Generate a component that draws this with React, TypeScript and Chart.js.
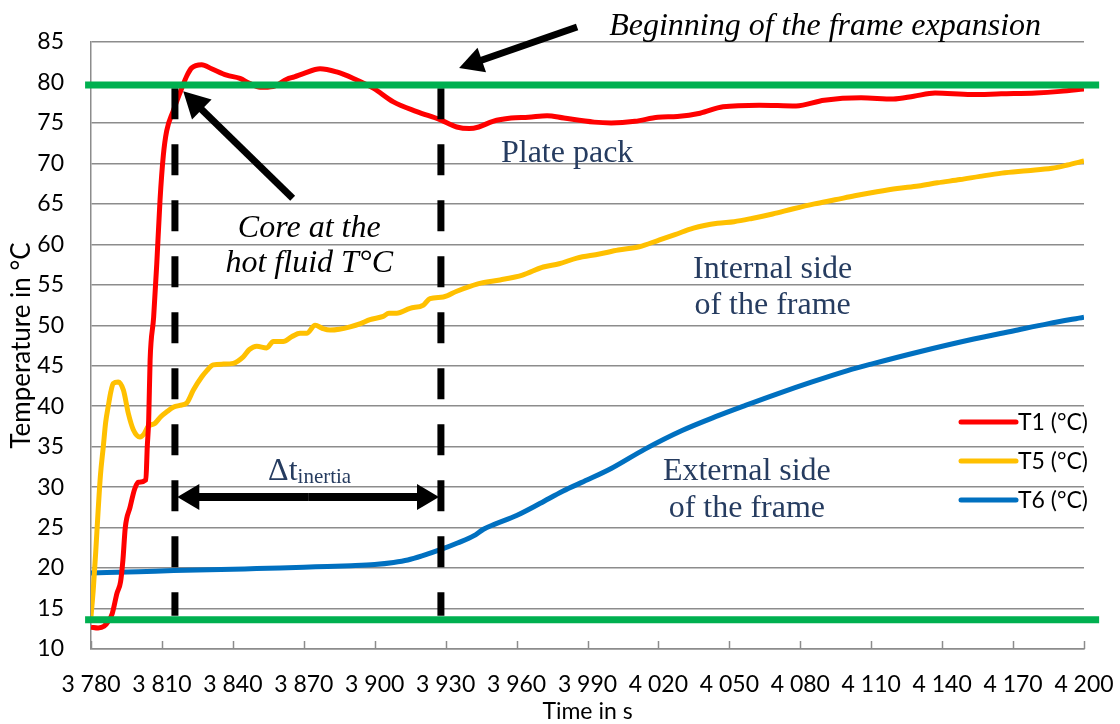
import React, { useEffect, useRef } from 'react';
import Chart from 'chart.js/auto';

// ---- data (time in s, temperature in °C) ----
const t1Times = [3780, 3783, 3785.5, 3787.5, 3789, 3791, 3792.5, 3793.5, 3794.5, 3796.5, 3798.5, 3800, 3803.2, 3803.8, 3804.4, 3805, 3806.5, 3807.8, 3809.2, 3810.6, 3812, 3814.8, 3818.4, 3820.5, 3822.6, 3826.8, 3831, 3837.4, 3843, 3847, 3851.5, 3857, 3862.8, 3866, 3869.8, 3876.9, 3883.9, 3891, 3899.4, 3907.9, 3917.8, 3927.6, 3934.7, 3940, 3944, 3950, 3957.7, 3965, 3972.9, 3980, 3992.8, 4000, 4010.1, 4019.8, 4028, 4037.6, 4047.3, 4062.6, 4078.2, 4090.1, 4105.7, 4119.3, 4128, 4137, 4152.3, 4165, 4179.7, 4190, 4200];
const t1Values = [12.7, 12.6, 12.8, 13.5, 14.4, 16.9, 18.3, 21, 25, 27.5, 29.8, 30.6, 30.9, 35, 38.3, 45.7, 51, 57.5, 65.5, 71, 74, 76.5, 79.3, 80.8, 81.8, 82.2, 81.7, 80.9, 80.5, 79.9, 79.4, 79.5, 80.4, 80.7, 81.1, 81.7, 81.3, 80.5, 79.3, 77.6, 76.4, 75.4, 74.5, 74.3, 74.5, 75.2, 75.6, 75.7, 75.9, 75.6, 75.1, 75.0, 75.2, 75.7, 75.8, 76.2, 77.0, 77.2, 77.1, 77.8, 78.1, 77.96, 78.3, 78.7, 78.5, 78.6, 78.7, 78.9, 79.2];

const t5Times = [3780, 3781, 3782, 3783, 3784, 3785.2, 3786.2, 3787.3, 3788.4, 3789.4, 3791.5, 3793.7, 3795.8, 3797.9, 3800.7, 3802.5, 3804.2, 3807.1, 3809.5, 3812, 3815, 3817.6, 3820.5, 3823.3, 3826.8, 3829, 3831.7, 3836, 3840.2, 3844.4, 3847, 3850.1, 3854.3, 3857.1, 3861.3, 3865, 3868.4, 3871.2, 3874.8, 3878, 3881.1, 3885, 3889.6, 3894, 3898, 3903.6, 3906, 3909.3, 3914.9, 3920.6, 3923.4, 3929, 3934.7, 3940.3, 3944.9, 3953, 3962.5, 3971.3, 3978, 3985.5, 3995, 4003, 4011.9, 4020, 4027, 4034.8, 4045, 4052, 4059.5, 4068.3, 4077.1, 4086, 4094.7, 4103, 4112.4, 4121, 4130, 4138, 4147.6, 4156, 4165.2, 4176, 4186.4, 4193, 4200];
const t5Values = [14, 17.5, 22, 27, 31.5, 35, 38, 40, 41.8, 42.8, 43, 42, 39.1, 37.1, 36.2, 36.6, 37.5, 37.9, 38.7, 39.3, 39.9, 40.1, 40.4, 42, 43.6, 44.4, 45.1, 45.2, 45.3, 46.1, 47, 47.4, 47.2, 48, 48, 48.6, 49, 49, 50, 49.6, 49.4, 49.5, 49.8, 50.2, 50.7, 51.1, 51.5, 51.5, 52.1, 52.5, 53.3, 53.5, 54.2, 54.8, 55.2, 55.6, 56.2, 57.2, 57.6, 58.3, 58.8, 59.3, 59.7, 60.5, 61.2, 62, 62.6, 62.8, 63.2, 63.75, 64.4, 65, 65.5, 66, 66.5, 66.9, 67.2, 67.6, 68.0, 68.4, 68.8, 69.1, 69.4, 69.8, 70.3];

const t6Times = [3780, 3800, 3815, 3830, 3845, 3860, 3875, 3890, 3900, 3908, 3914, 3920, 3928, 3935, 3942, 3946, 3950.6, 3960, 3970, 3979.5, 3990, 4000, 4014.3, 4030, 4045, 4056.8, 4070, 4085, 4100, 4110, 4130, 4153.4, 4170, 4185, 4200];
const t6Values = [19.4, 19.55, 19.7, 19.8, 19.9, 20.0, 20.15, 20.3, 20.45, 20.7, 21.0, 21.5, 22.3, 23.1, 24.0, 24.8, 25.4, 26.5, 28.0, 29.5, 30.9, 32.3, 34.7, 37.0, 38.8, 40.1, 41.5, 43.0, 44.4, 45.2, 46.7, 48.3, 49.3, 50.2, 51.0];

const seriesLabels = ['T1 (°C)', 'T5 (°C)', 'T6 (°C)'];
const seriesColors = ['#FF0000', '#FFC000', '#0070C0'];

// reference levels / markers
const greenLevels = [79.7, 13.6];
const greenSpan = [3777.5, 4206.4];
const markerTimes = [3815.5, 3928];
const markerSpan = [79.3, 14.1];

// axis settings
const xMin = 3780, xMax = 4200, xStep = 30;
const yMin = 10, yMax = 85, yStep = 5;

const TEXT_BLUE = '#263C60';
const GRID = '#8C8C8C';

function pts(xs: number[], ys: number[]) {
  return xs.map((x, i) => ({ x, y: ys[i] }));
}

function fmtTime(v: number) {
  const th = Math.floor(v / 1000);
  const r = String(Math.round(v % 1000)).padStart(3, '0');
  return th + '\u00A0' + r;
}

function drawArrow(ctx: CanvasRenderingContext2D, x1: number, y1: number, x2: number, y2: number, w: number, hl: number, hw: number) {
  const dx = x2 - x1, dy = y2 - y1;
  const len = Math.hypot(dx, dy);
  const ux = dx / len, uy = dy / len;
  const bx = x2 - ux * hl, by = y2 - uy * hl;
  ctx.beginPath();
  ctx.lineWidth = w;
  ctx.lineCap = 'butt';
  ctx.moveTo(x1, y1);
  ctx.lineTo(bx + ux * 2, by + uy * 2);
  ctx.stroke();
  ctx.beginPath();
  ctx.moveTo(x2, y2);
  ctx.lineTo(bx - uy * hw, by + ux * hw);
  ctx.lineTo(bx + uy * hw, by - ux * hw);
  ctx.closePath();
  ctx.fill();
}

const annotPlugin = {
  id: 'annots',
  afterDatasetsDraw(chart: any) {
    const { ctx, chartArea } = chart;
    const xs = chart.scales.x, ys = chart.scales.y;
    const px = (t: number) => xs.getPixelForValue(t);
    const py = (v: number) => ys.getPixelForValue(v);
    ctx.save();
    // inside tick marks on x axis
    ctx.strokeStyle = GRID;
    ctx.lineWidth = 1.5;
    xs.ticks.forEach((tk: any) => {
      const X = Math.round(px(tk.value)) + 0.5;
      ctx.beginPath();
      ctx.moveTo(X, chartArea.bottom);
      ctx.lineTo(X, chartArea.bottom - 8);
      ctx.stroke();
    });

    // arrows
    ctx.strokeStyle = '#000';
    ctx.fillStyle = '#000';
    drawArrow(ctx, px(3865.3), py(65.7), px(3819), py(78.9), 7, 26, 14);
    drawArrow(ctx, px(3985.6), py(86.86), px(3935.7), py(81.8), 7, 24, 13);
    const ay = py(28.78);
    const ax1 = px(3816.5), ax2 = px(3927.2);
    const mx = (ax1 + ax2) / 2;
    drawArrow(ctx, mx, ay, ax1, ay, 8, 22, 13);
    drawArrow(ctx, mx, ay, ax2, ay, 8, 22, 13);

    // texts
    ctx.textBaseline = 'alphabetic';
    ctx.textAlign = 'center';
    ctx.fillStyle = '#000';
    ctx.font = 'italic 32px "Liberation Serif"';
    ctx.fillText('Beginning of the frame expansion', px(4090.5), py(85.87));
    ctx.fillText('Core at the', px(3872.3), py(60.9));
    ctx.fillText('hot fluid T°C', px(3872.3), py(56.6));

    ctx.fillStyle = TEXT_BLUE;
    ctx.font = '32px "Liberation Serif"';
    ctx.fillText('Plate pack', px(3981.4), py(70.2));
    ctx.fillText('Internal side', px(4068.3), py(55.9));
    ctx.fillText('of the frame', px(4068.3), py(51.4));
    ctx.fillText('External side', px(4057.4), py(30.9));
    ctx.fillText('of the frame', px(4057.4), py(26.35));

    ctx.textAlign = 'left';
    const dx0 = px(3854.9), dbase = py(30.9);
    ctx.font = '32px "Liberation Serif"';
    ctx.fillText('\u0394t', dx0, dbase);
    const w = ctx.measureText('\u0394t').width;
    ctx.font = '21px "Liberation Serif"';
    ctx.fillText('inertia', dx0 + w, dbase + 3);

    ctx.restore();
  },
  afterDraw(chart: any) {
    const { ctx, chartArea } = chart;
    ctx.save();
    const lx1 = chartArea.right - 123, lx2 = chartArea.right - 68;
    const rows = [chartArea.top + 380, chartArea.top + 419, chartArea.top + 458];
    ctx.font = '23px Lato';
    ctx.textBaseline = 'middle';
    ctx.textAlign = 'left';
    seriesLabels.forEach((lab, i) => {
      ctx.strokeStyle = seriesColors[i];
      ctx.lineWidth = 5;
      ctx.lineCap = 'round';
      ctx.beginPath();
      ctx.moveTo(lx1, rows[i]);
      ctx.lineTo(lx2, rows[i]);
      ctx.stroke();
      ctx.fillStyle = '#000';
      ctx.fillText(lab, lx2 + 2, rows[i] + 1);
    });
    ctx.restore();
  },
};

export default function App() {
  const ref = useRef<HTMLCanvasElement | null>(null);
  useEffect(() => {
    document.body.style.margin = '0';
    const canvas = ref.current;
    if (!canvas) return;
    const curve = (i: number, xs: number[], ys: number[]) => ({
      label: seriesLabels[i],
      data: pts(xs, ys),
      borderColor: seriesColors[i],
      backgroundColor: seriesColors[i],
      borderWidth: 5,
      pointRadius: 0,
      cubicInterpolationMode: 'monotone' as const,
      fill: false,
      order: 2 + i,
    });
    const green = (lvl: number) => ({
      label: 'level',
      data: greenSpan.map((t) => ({ x: t, y: lvl })),
      borderColor: '#00B050',
      borderWidth: 7,
      pointRadius: 0,
      fill: false,
      clip: false as any,
      order: 0,
    });
    const marker = (t: number) => ({
      label: 'marker',
      data: markerSpan.map((v) => ({ x: t, y: v })),
      borderColor: '#000000',
      borderWidth: 7,
      borderDash: [31, 25],
      borderCapStyle: 'butt' as const,
      pointRadius: 0,
      fill: false,
      order: 1,
    });
    const chart = new Chart(canvas, {
      type: 'line',
      data: {
        datasets: [
          curve(0, t1Times, t1Values),
          curve(1, t5Times, t5Values),
          curve(2, t6Times, t6Values),
          ...greenLevels.map(green),
          ...markerTimes.map(marker),
        ] as any,
      },
      options: {
        animation: false,
        responsive: true,
        maintainAspectRatio: false,
        layout: { padding: { top: 42, right: 36, left: 0, bottom: 0 } },
        plugins: { legend: { display: false }, tooltip: { enabled: false } },
        scales: {
          x: {
            type: 'linear',
            min: xMin,
            max: xMax,
            afterFit: (s: any) => { s.height = 75; s.paddingLeft = 0; s.paddingRight = 0; },
            ticks: {
              stepSize: xStep,
              padding: 22,
              color: '#000',
              font: { family: 'Lato', size: 23 },
              maxRotation: 0,
              autoSkip: false,
              callback: (v: any) => fmtTime(Number(v)),
            },
            grid: { display: false, drawTicks: false },
            border: { display: true, color: GRID, width: 1.5 },
            title: { display: true, text: 'Time in s', color: '#000', font: { family: 'Lato', size: 23 }, padding: { top: 0, bottom: -1 } },
          },
          y: {
            type: 'linear',
            min: yMin,
            max: yMax,
            afterFit: (s: any) => { s.width = 91; s.paddingTop = 0; s.paddingBottom = 0; },
            ticks: {
              stepSize: yStep,
              padding: 27,
              color: '#000',
              font: { family: 'Lato', size: 23 },
            },
            grid: { display: true, color: GRID, lineWidth: 1.5, drawTicks: false },
            border: { display: true, color: GRID, width: 1.5 },
            title: { display: true, text: 'Temperature in °C', color: '#000', font: { family: 'Lato', size: 26 }, padding: { top: 6, bottom: 0 } },
          },
        },
      },
      plugins: [annotPlugin],
    });
    return () => chart.destroy();
  }, []);
  return (
    <div style={{ position: 'relative', width: '1120px', height: '724px' }}>
      <canvas ref={ref} />
    </div>
  );
}
